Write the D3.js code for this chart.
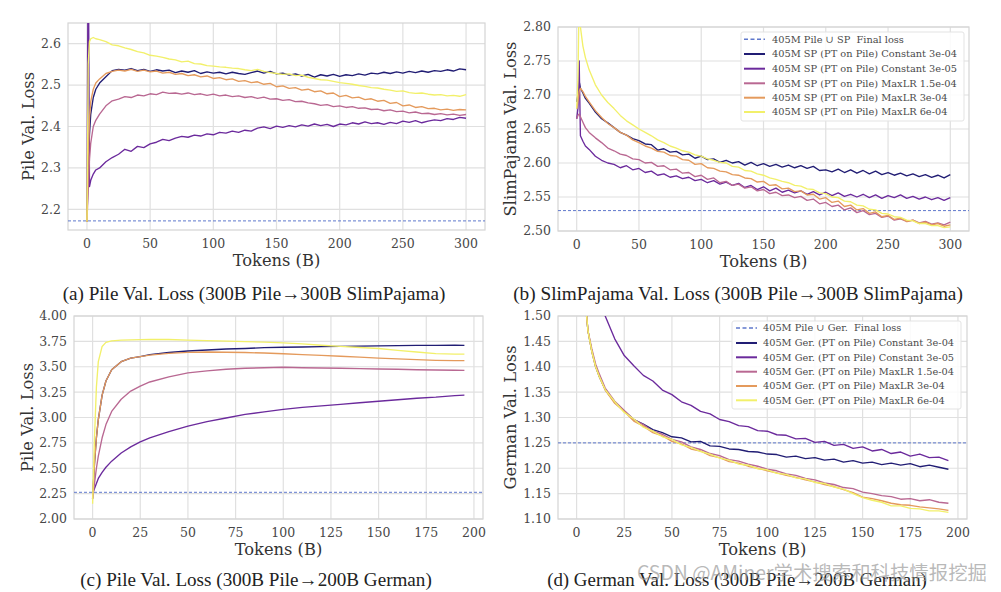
<!DOCTYPE html>
<html><head><meta charset="utf-8">
<script src="https://cdn.jsdelivr.net/npm/d3@7"></script>
<style>body{margin:0;background:#fff}svg{display:block}</style>
</head><body>
<svg id="c" width="1001" height="592"></svg>
<script>
// ---------- DATA ----------
const seriesNames = ["Constant 3e-04", "Constant 3e-05", "MaxLR 1.5e-04", "MaxLR 3e-04", "MaxLR 6e-04"];
const seriesColors = ["#211d74", "#6b2a9c", "#b96892", "#e49a5c", "#f2f06a"];
const refColor = "#5f78cc";

// Panel (a) & (b): tokens 0..300B
const xAB = [0,1,2,3,5,7,10,15,20,25,30,35,40,45,50,55,60,65,70,75,80,85,90,95,100,105,110,115,120,125,130,135,140,145,150,155,160,165,170,175,180,185,190,195,200,205,210,215,220,225,230,235,240,245,250,255,260,265,270,275,280,285,290,295,300];
const aC3e4 = [2.17,2.30,2.38,2.43,2.47,2.49,2.505,2.52,2.535,
  2.538,2.536,2.540,2.535,2.538,2.533,2.537,2.534,2.536,2.530,
  2.534,2.531,2.535,2.528,2.532,2.529,2.531,2.527,2.531,2.528,
  2.526,2.530,2.534,2.529,2.533,2.527,2.529,2.524,2.527,2.522,
  2.526,2.519,2.525,2.522,2.526,2.521,2.525,2.523,2.527,2.524,
  2.529,2.527,2.531,2.528,2.532,2.529,2.533,2.530,2.534,2.531,
  2.535,2.533,2.537,2.534,2.539,2.537];
const aC3e5 = [2.17,2.90,2.255,2.27,2.285,2.295,2.30,2.315,2.325,
  2.333,2.345,2.340,2.352,2.349,2.358,2.362,2.369,2.366,2.372,
  2.376,2.374,2.379,2.377,2.382,2.380,2.386,2.384,2.389,2.386,
  2.391,2.389,2.396,2.399,2.395,2.401,2.398,2.402,2.399,2.404,
  2.401,2.406,2.402,2.405,2.400,2.406,2.404,2.409,2.406,2.411,
  2.407,2.409,2.405,2.410,2.407,2.413,2.410,2.414,2.409,2.413,
  2.416,2.414,2.419,2.417,2.422,2.420];
const aM15 = [2.17,2.25,2.32,2.36,2.40,2.415,2.43,2.45,2.462,
  2.466,2.472,2.470,2.476,2.474,2.479,2.477,2.483,2.480,2.481,
  2.478,2.481,2.477,2.479,2.475,2.478,2.474,2.476,2.472,2.474,
  2.470,2.472,2.468,2.471,2.466,2.467,2.463,2.465,2.460,2.461,
  2.457,2.455,2.451,2.453,2.448,2.450,2.446,2.448,2.444,2.445,
  2.441,2.442,2.438,2.440,2.436,2.437,2.433,2.435,2.431,2.432,
  2.429,2.431,2.428,2.430,2.427,2.429];
const aM3 = [2.17,2.33,2.42,2.46,2.49,2.505,2.515,2.528,2.533,
  2.536,2.534,2.538,2.533,2.536,2.532,2.534,2.529,2.531,2.526,
  2.528,2.523,2.525,2.520,2.522,2.516,2.518,2.513,2.515,2.509,
  2.511,2.506,2.508,2.502,2.504,2.496,2.498,2.492,2.494,2.488,
  2.490,2.484,2.486,2.479,2.481,2.472,2.475,2.469,2.471,2.465,
  2.467,2.461,2.463,2.456,2.458,2.450,2.452,2.446,2.448,2.443,
  2.444,2.440,2.442,2.439,2.441,2.440];
const aM6 = [2.17,2.55,2.605,2.612,2.615,2.612,2.610,2.605,2.597,
  2.595,2.590,2.586,2.581,2.578,2.572,2.570,2.567,2.563,2.561,
  2.556,2.558,2.552,2.551,2.547,2.546,2.544,2.543,2.541,2.540,
  2.537,2.535,2.538,2.533,2.530,2.528,2.526,2.527,2.523,2.524,
  2.519,2.516,2.513,2.512,2.509,2.506,2.504,2.502,2.499,2.497,
  2.494,2.493,2.490,2.488,2.485,2.486,2.482,2.480,2.481,2.478,
  2.476,2.477,2.474,2.475,2.473,2.477];
const aRef = 2.172;

const bC3e4 = [2.69,2.70,2.72,2.71,2.703,2.695,2.688,2.675,2.665,
  2.659,2.652,2.645,2.641,2.636,2.633,2.628,2.627,2.619,2.621,
  2.616,2.617,2.612,2.613,2.607,2.610,2.605,2.606,2.601,2.604,
  2.600,2.602,2.597,2.601,2.596,2.599,2.595,2.598,2.594,2.597,
  2.593,2.596,2.592,2.595,2.589,2.590,2.587,2.591,2.586,2.590,
  2.585,2.589,2.584,2.588,2.583,2.586,2.582,2.585,2.581,2.584,
  2.580,2.583,2.579,2.582,2.578,2.583];
const bC3e5 = [2.665,2.68,2.75,2.64,2.632,2.625,2.620,2.610,2.604,
  2.600,2.598,2.593,2.596,2.590,2.592,2.586,2.588,2.582,2.584,
  2.579,2.581,2.577,2.579,2.574,2.576,2.571,2.574,2.569,2.572,
  2.567,2.570,2.564,2.567,2.561,2.565,2.559,2.563,2.557,2.560,
  2.556,2.559,2.554,2.558,2.553,2.557,2.552,2.556,2.551,2.554,
  2.550,2.554,2.549,2.553,2.548,2.552,2.549,2.553,2.548,2.551,
  2.547,2.550,2.546,2.549,2.545,2.549];
const bM15 = [2.665,2.67,2.672,2.668,2.660,2.652,2.645,2.637,2.630,
  2.622,2.618,2.613,2.611,2.606,2.605,2.600,2.601,2.595,2.596,
  2.590,2.591,2.585,2.586,2.580,2.582,2.576,2.578,2.571,2.573,
  2.567,2.569,2.563,2.565,2.559,2.561,2.555,2.557,2.552,2.553,
  2.549,2.551,2.545,2.547,2.540,2.542,2.536,2.538,2.531,2.534,
  2.527,2.530,2.524,2.526,2.520,2.522,2.516,2.518,2.514,2.516,
  2.512,2.514,2.510,2.512,2.509,2.513];
const bM3 = [2.68,2.69,2.705,2.71,2.705,2.698,2.690,2.677,2.667,
  2.658,2.652,2.645,2.641,2.634,2.630,2.625,2.622,2.617,2.616,
  2.611,2.610,2.605,2.604,2.598,2.599,2.593,2.592,2.588,2.587,
  2.583,2.582,2.578,2.577,2.572,2.573,2.567,2.568,2.562,2.563,
  2.558,2.559,2.553,2.554,2.547,2.549,2.542,2.544,2.536,2.538,
  2.531,2.533,2.526,2.528,2.521,2.523,2.517,2.519,2.514,2.516,
  2.511,2.513,2.509,2.511,2.507,2.509];
const bM6 = [2.68,2.72,2.85,2.80,2.772,2.755,2.737,2.715,2.700,
  2.689,2.680,2.670,2.662,2.656,2.650,2.645,2.640,2.634,2.630,
  2.625,2.622,2.618,2.616,2.612,2.610,2.606,2.604,2.601,2.600,
  2.595,2.594,2.589,2.588,2.584,2.582,2.578,2.576,2.573,2.571,
  2.567,2.566,2.562,2.561,2.556,2.555,2.550,2.549,2.544,2.543,
  2.538,2.537,2.532,2.531,2.526,2.525,2.521,2.520,2.516,2.515,
  2.511,2.511,2.508,2.508,2.505,2.506];
const bRef = 2.530;

// Panel (c): tokens 0..195B
const xC = [0,1,2,3,5,7,10,15,20,25,30,40,50,60,70,80,90,100,110,120,130,140,150,160,170,180,190,195];
const cC3e4 = [2.2,2.55,2.8,2.98,3.22,3.36,3.47,3.55,3.585,3.60,3.62,3.64,3.655,3.665,3.675,3.68,3.688,3.692,3.695,3.698,3.70,3.703,3.706,3.708,3.71,3.71,3.712,3.71];
const cC3e5 = [2.25,2.30,2.35,2.40,2.46,2.51,2.57,2.65,2.71,2.76,2.80,2.86,2.915,2.96,2.995,3.03,3.055,3.08,3.10,3.115,3.13,3.145,3.16,3.175,3.19,3.20,3.215,3.22];
const cM15 = [2.2,2.35,2.5,2.62,2.8,2.93,3.06,3.18,3.26,3.31,3.35,3.40,3.44,3.46,3.475,3.485,3.49,3.495,3.49,3.488,3.485,3.482,3.478,3.475,3.47,3.468,3.466,3.465];
const cM3 = [2.2,2.55,2.8,2.98,3.22,3.36,3.47,3.55,3.585,3.60,3.615,3.632,3.642,3.645,3.643,3.64,3.635,3.628,3.62,3.612,3.603,3.595,3.585,3.578,3.57,3.563,3.56,3.56];
const cM6 = [2.15,2.8,3.3,3.55,3.70,3.74,3.755,3.762,3.765,3.767,3.768,3.768,3.762,3.758,3.752,3.748,3.742,3.735,3.725,3.712,3.70,3.69,3.68,3.662,3.645,3.63,3.625,3.625];
const cRef = 2.263;

// Panel (d): tokens 0..195B
const xD = [0,2,4,6,8,10,12,15,20,25,30,35,40,45,50,55,60,65,70,75,80,85,90,95,100,105,110,115,120,125,130,135,140,145,150,155,160,165,170,175,180,185,190,195];
const dC3e4 = [2.2,1.8,1.55,1.47,1.43,1.40,1.38,1.355,
  1.330,1.313,1.296,1.287,1.276,1.270,1.262,1.260,1.252,1.253,
  1.244,1.243,1.238,1.237,1.233,1.232,1.228,1.227,1.222,1.224,
  1.219,1.221,1.216,1.218,1.212,1.215,1.210,1.212,1.207,1.210,
  1.206,1.209,1.203,1.206,1.202,1.198];
const dC3e5 = [2.2,1.95,1.78,1.68,1.61,1.565,1.53,1.50,
  1.455,1.422,1.402,1.383,1.372,1.354,1.345,1.331,1.324,1.312,
  1.307,1.296,1.292,1.284,1.282,1.274,1.273,1.266,1.265,1.258,
  1.259,1.251,1.253,1.245,1.247,1.239,1.242,1.234,1.237,1.229,
  1.232,1.224,1.228,1.221,1.222,1.215];
const dM15 = [2.2,1.8,1.55,1.47,1.435,1.405,1.385,1.358,
  1.332,1.314,1.296,1.286,1.273,1.267,1.257,1.252,1.242,1.237,
  1.229,1.225,1.217,1.214,1.208,1.204,1.198,1.195,1.189,1.186,
  1.180,1.177,1.171,1.168,1.162,1.160,1.153,1.150,1.146,1.144,
  1.139,1.140,1.136,1.138,1.133,1.131];
const dM3 = [2.2,1.8,1.55,1.47,1.43,1.40,1.38,1.354,
  1.328,1.312,1.293,1.283,1.270,1.264,1.253,1.248,1.238,1.234,
  1.225,1.221,1.213,1.210,1.204,1.200,1.195,1.191,1.186,1.182,
  1.177,1.173,1.168,1.164,1.158,1.152,1.143,1.140,1.136,1.131,
  1.128,1.127,1.124,1.122,1.120,1.117];
const dM6 = [2.2,1.8,1.55,1.47,1.43,1.40,1.38,1.355,
  1.331,1.310,1.297,1.281,1.273,1.262,1.257,1.246,1.241,1.233,
  1.228,1.220,1.216,1.208,1.206,1.199,1.197,1.190,1.188,1.181,
  1.179,1.172,1.170,1.163,1.159,1.150,1.142,1.137,1.133,1.126,
  1.126,1.121,1.120,1.116,1.116,1.113];
const dRef = 1.250;

// Tick values
const xTicksAB = [0,50,100,150,200,250,300];
const xTicksCD = [0,25,50,75,100,125,150,175,200];
const yTicksA = [2.2,2.3,2.4,2.5,2.6];
const yTicksB = [2.50,2.55,2.60,2.65,2.70,2.75,2.80];
const yTicksC = [2.00,2.25,2.50,2.75,3.00,3.25,3.50,3.75,4.00];
const yTicksD = [1.10,1.15,1.20,1.25,1.30,1.35,1.40,1.45,1.50];

// Text
const legendB = ["405M Pile \u222A SP  Final loss", "405M SP (PT on Pile) Constant 3e-04", "405M SP (PT on Pile) Constant 3e-05", "405M SP (PT on Pile) MaxLR 1.5e-04", "405M SP (PT on Pile) MaxLR 3e-04", "405M SP (PT on Pile) MaxLR 6e-04"];
const legendD = ["405M Pile \u222A Ger.  Final loss", "405M Ger. (PT on Pile) Constant 3e-04", "405M Ger. (PT on Pile) Constant 3e-05", "405M Ger. (PT on Pile) MaxLR 1.5e-04", "405M Ger. (PT on Pile) MaxLR 3e-04", "405M Ger. (PT on Pile) MaxLR 6e-04"];
const captions = ["(a) Pile Val. Loss (300B Pile\u2192300B SlimPajama)", "(b) SlimPajama Val. Loss (300B Pile\u2192300B SlimPajama)", "(c) Pile Val. Loss (300B Pile\u2192200B German)", "(d) German Val. Loss (300B Pile\u2192200B German)"];
const watermark = "CSDN @AMiner\u5b66\u672f\u641c\u7d22\u548c\u79d1\u6280\u60c5\u62a5\u6316\u6398";

// ---------- DRAW ----------
const svg = d3.select("#c");
const SERIF = "'DejaVu Serif', serif";

function fitFont(sel, width, start) {
  sel.style("font-size", start + "px");
  const w = sel.node().getComputedTextLength();
  const fs = start * width / w;
  sel.style("font-size", fs.toFixed(2) + "px");
  return fs;
}

const panels = [
  {id:"a", xs:xAB, ys:[aC3e4,aC3e5,aM15,aM3,aM6], ref:aRef, xDom:[-15,315], yDom:[2.15,2.65], L:68, R:485, T:23, B:230,
   xt:xTicksAB, yt:yTicksA, yf:".1f", ylab:"Pile Val. Loss", ylabX:28, legend:null},
  {id:"b", xs:xAB, ys:[bC3e4,bC3e5,bM15,bM3,bM6], ref:bRef, xDom:[-15,315], yDom:[2.5,2.8], L:558, R:969, T:27, B:231,
   xt:xTicksAB, yt:yTicksB, yf:".2f", ylab:"SlimPajama Val. Loss", ylabX:510, legend:{labels:legendB, x0:741, x1:964, y0:32, y1:121, rows:[39.3,54,68.7,83.3,97.7,112], lx0:744, lx1:765, tx:772, tw:185}},
  {id:"c", xs:xC, ys:[cC3e4,cC3e5,cM15,cM3,cM6], ref:cRef, xDom:[-9.75,204.75], yDom:[2,4], L:74, R:483, T:316, B:519,
   xt:xTicksCD, yt:yTicksC, yf:".2f", ylab:"Pile Val. Loss", ylabX:27, legend:null},
  {id:"d", xs:xD, ys:[dC3e4,dC3e5,dM15,dM3,dM6], ref:dRef, xDom:[-9.75,204.75], yDom:[1.1,1.5], L:558, R:967, T:316, B:519,
   xt:xTicksCD, yt:yTicksD, yf:".2f", ylab:"German Val. Loss", ylabX:510, legend:{labels:legendD, x0:732, x1:961, y0:321, y1:409, rows:[328,343,357.3,371.7,386,400.3], lx0:736, lx1:757, tx:763, tw:191}}
];

panels.forEach(p => {
  const g = svg.append("g");
  const x = d3.scaleLinear().domain(p.xDom).range([p.L, p.R]);
  const y = d3.scaleLinear().domain(p.yDom).range([p.B, p.T]);
  const cid = "clip-" + p.id;
  g.append("clipPath").attr("id", cid).append("rect")
    .attr("x", p.L).attr("y", p.T).attr("width", p.R - p.L).attr("height", p.B - p.T);

  // grid
  g.append("g").selectAll("line").data(p.xt).join("line")
    .attr("x1", d => x(d)).attr("x2", d => x(d)).attr("y1", p.T).attr("y2", p.B)
    .attr("stroke", "#e0e0e0").attr("stroke-width", 1.2);
  g.append("g").selectAll("line").data(p.yt).join("line")
    .attr("x1", p.L).attr("x2", p.R).attr("y1", d => y(d)).attr("y2", d => y(d))
    .attr("stroke", "#e0e0e0").attr("stroke-width", 1.2);
  g.append("rect").attr("x", p.L).attr("y", p.T).attr("width", p.R - p.L).attr("height", p.B - p.T)
    .attr("fill", "none").attr("stroke", "#d4d4d4").attr("stroke-width", 1.2);

  // tick labels
  g.append("g").selectAll("text").data(p.yt).join("text")
    .attr("x", p.L - 7).attr("y", d => y(d)).attr("dy", "0.35em")
    .attr("text-anchor", "end").style("font-family", SERIF).style("font-size", "12.5px").attr("fill", "#474747")
    .text(d => d3.format(p.yf)(d));
  g.append("g").selectAll("text").data(p.xt).join("text")
    .attr("x", d => x(d)).attr("y", p.B + 17.5)
    .attr("text-anchor", "middle").style("font-family", SERIF).style("font-size", "12.5px").attr("fill", "#474747")
    .text(d => d);

  // axis titles
  g.append("text").attr("x", (p.L + p.R) / 2).attr("y", p.B + 35.5)
    .attr("text-anchor", "middle").style("font-family", SERIF).style("font-size", "16.3px").attr("fill", "#333")
    .text("Tokens (B)");
  g.append("text").attr("transform", `translate(${p.ylabX},${(p.T + p.B) / 2}) rotate(-90)`).attr("dy", "0.35em")
    .attr("text-anchor", "middle").style("font-family", SERIF).style("font-size", "16.3px").attr("fill", "#333")
    .text(p.ylab);

  const plot = g.append("g").attr("clip-path", `url(#${cid})`);
  // reference dashed line
  plot.append("line").attr("x1", p.L).attr("x2", p.R).attr("y1", y(p.ref)).attr("y2", y(p.ref))
    .attr("stroke", refColor).attr("stroke-width", 1).attr("stroke-dasharray", "3,2");
  const line = d3.line().x((d, i) => x(p.xs[i])).y(d => y(d));
  p.ys.forEach((s, k) => {
    plot.append("path").datum(s).attr("d", line).attr("fill", "none")
      .attr("stroke", seriesColors[k]).attr("stroke-width", 1.35).attr("stroke-linejoin", "round");
  });

  if (p.legend) {
    const lg = p.legend;
    g.append("rect").attr("x", lg.x0).attr("y", lg.y0).attr("width", lg.x1 - lg.x0).attr("height", lg.y1 - lg.y0)
      .attr("rx", 2).attr("fill", "#fff").attr("fill-opacity", 0.85).attr("stroke", "#e3e3e3");
    const texts = [];
    lg.labels.forEach((t, i) => {
      const yy = lg.rows[i];
      g.append("line").attr("x1", lg.lx0).attr("x2", lg.lx1).attr("y1", yy).attr("y2", yy)
        .attr("stroke", i === 0 ? refColor : seriesColors[i - 1]).attr("stroke-width", i === 0 ? 1.5 : 2)
        .attr("stroke-dasharray", i === 0 ? "4,2.5" : null);
      texts.push(g.append("text").attr("x", lg.tx).attr("y", yy).attr("dy", "0.35em").style("white-space", "pre")
        .style("font-family", SERIF).style("font-size", "10.5px").attr("fill", "#4a4a4a").text(t));
    });
    const fs = fitFont(texts[1], lg.tw, 10.5);
    texts.forEach(t => t.style("font-size", fs.toFixed(2) + "px"));
  }
});

// captions
const capPos = [[254, 293, 383], [738, 293, 450], [256, 579, 352], [737, 579, 380]];
captions.forEach((c, i) => {
  const t = svg.append("text").attr("x", capPos[i][0]).attr("y", capPos[i][1]).attr("dy", "0.35em")
    .attr("text-anchor", "middle").style("font-family", "'Liberation Serif', serif").attr("fill", "#222").text(c);
  fitFont(t, capPos[i][2], 16);
});

// watermark
const wm = svg.append("text").attr("x", 812).attr("y", 573).attr("dy", "0.35em").attr("text-anchor", "middle")
  .style("font-family", "'Noto Sans CJK SC', sans-serif").attr("fill", "#9a9a9a").attr("fill-opacity", 0.7).text(watermark);
fitFont(wm, 350, 18);
</script>
</body></html>
